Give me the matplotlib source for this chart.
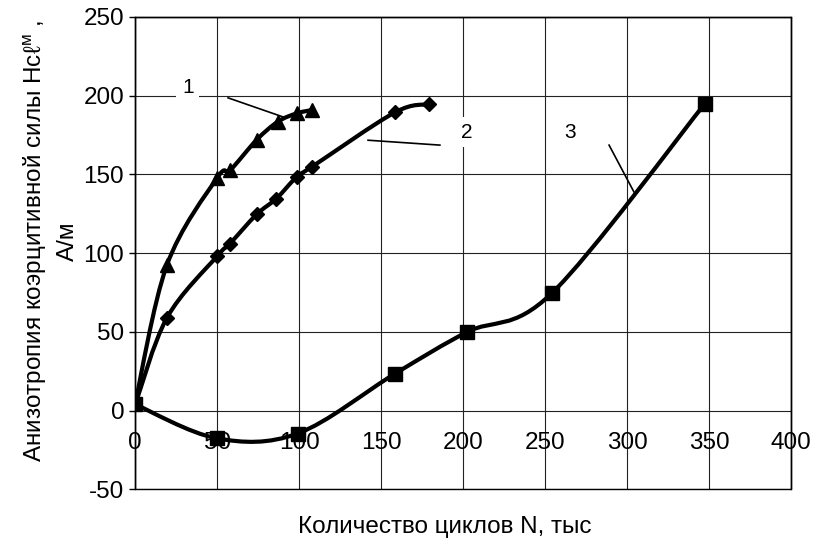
import matplotlib
matplotlib.use('Agg')
import matplotlib.pyplot as plt
from matplotlib.path import Path
from matplotlib.patches import PathPatch, Rectangle
import numpy as np

plt.rcParams['font.family'] = ['Liberation Sans', 'DejaVu Sans']
plt.rcParams['mathtext.fontset'] = 'custom'
plt.rcParams['mathtext.rm'] = 'Liberation Sans'
plt.rcParams['axes.unicode_minus'] = False

# curve 1 (triangles)
x1 = [0, 19.3, 49.8, 58, 74, 87, 98.6, 108]
y1 = [5, 92.5, 147.6, 152.8, 171.9, 183.5, 188.8, 190.9]
# curve 2 (diamonds)
x2 = [0, 19.3, 50, 57.5, 74, 86, 98.6, 108, 158.4, 179.3]
y2 = [4, 59, 98.2, 105.8, 124.6, 134.6, 148.6, 155, 189.4, 194.5]
# curve 3 (squares)
x3 = [0, 49.6, 99, 158.4, 202.5, 254, 347.5]
y3 = [4, -17.5, -14.5, 23.5, 50, 74.5, 195]

xticks = [0, 50, 100, 150, 200, 250, 300, 350, 400]
yticks = [-50, 0, 50, 100, 150, 200, 250]


def smooth_path(xs, ys):
    # excel-like smoothed line: catmull-rom segments as cubic beziers
    p = np.column_stack([xs, ys]).astype(float)
    verts = [p[0]]
    codes = [Path.MOVETO]
    n = len(p)
    for i in range(n - 1):
        p0 = p[i - 1] if i > 0 else p[i]
        p3 = p[i + 2] if i + 2 < n else p[i + 1]
        c1 = p[i] + (p[i + 1] - p0) / 6
        c2 = p[i + 1] - (p3 - p[i]) / 6
        verts += [c1, c2, p[i + 1]]
        codes += [Path.CURVE4] * 3
    return Path(verts, codes)


fig = plt.figure(figsize=(8.15, 5.48), dpi=100)
ax = fig.add_axes([0.166, 0.1068, 0.8046, 0.8624])

for xs, ys, m, ms in [(x1, y1, '^', 10), (x2, y2, 'D', 7.5), (x3, y3, 's', 10)]:
    ax.add_patch(PathPatch(smooth_path(xs, ys), fill=False, lw=3, ec='black',
                           capstyle='round', joinstyle='round', zorder=3))
    ax.plot(xs, ys, ls='none', marker=m, ms=ms, color='black', zorder=4)

ax.set_xlim(0, 400)
ax.set_ylim(-50, 250)
ax.set_xticks(xticks)
ax.set_yticks(yticks)
ax.grid(True, color='#222222', lw=0.8)
ax.set_axisbelow(True)

# x axis crosses at zero, labels under that line
ax.spines['bottom'].set_position(('data', 0))
ax.spines['bottom'].set_visible(False)
ax.add_patch(Rectangle((0, 0), 1, 1, transform=ax.transAxes, fill=False,
                       lw=1, ec='black', zorder=5, clip_on=False))
for s in ['top', 'left', 'right']:
    ax.spines[s].set_linewidth(1)
ax.tick_params(axis='x', length=0, pad=15, labelsize=17.5)
ax.tick_params(axis='y', length=4, width=1, direction='out', pad=4, labelsize=17.5)

# curve labels with leader lines
ax.text(32, 205, '1', fontsize=15, ha='center', va='center', zorder=6,
        bbox=dict(fc='white', ec='none', pad=4))
ax.plot([56.6, 90.1], [198.6, 186.5], color='black', lw=1.2, zorder=6)
ax.text(202.3, 176.8, '2', fontsize=15, ha='center', va='center', zorder=6,
        bbox=dict(fc='white', ec='none', pad=4))
ax.plot([142, 185.8], [171.7, 168.6], color='black', lw=1.2, zorder=6)
ax.text(265.5, 176.4, '3', fontsize=15, ha='center', va='center', zorder=6)
ax.plot([289, 304.1], [168.6, 139.0], color='black', lw=1.2, zorder=6)

fig.text(0.043, 0.56, 'Анизотропия коэрцитивной силы Нсℓ$^{\\mathrm{м}}$ ,',
         rotation=90, ha='center', va='center', fontsize=17.5)
fig.text(0.0834, 0.56, 'А/м', rotation=90, ha='center', va='center', fontsize=17.5)
fig.text(0.546, 0.038, 'Количество циклов N, тыс', ha='center', va='center',
         fontsize=17.5)

fig.savefig('out.png', dpi=100)
